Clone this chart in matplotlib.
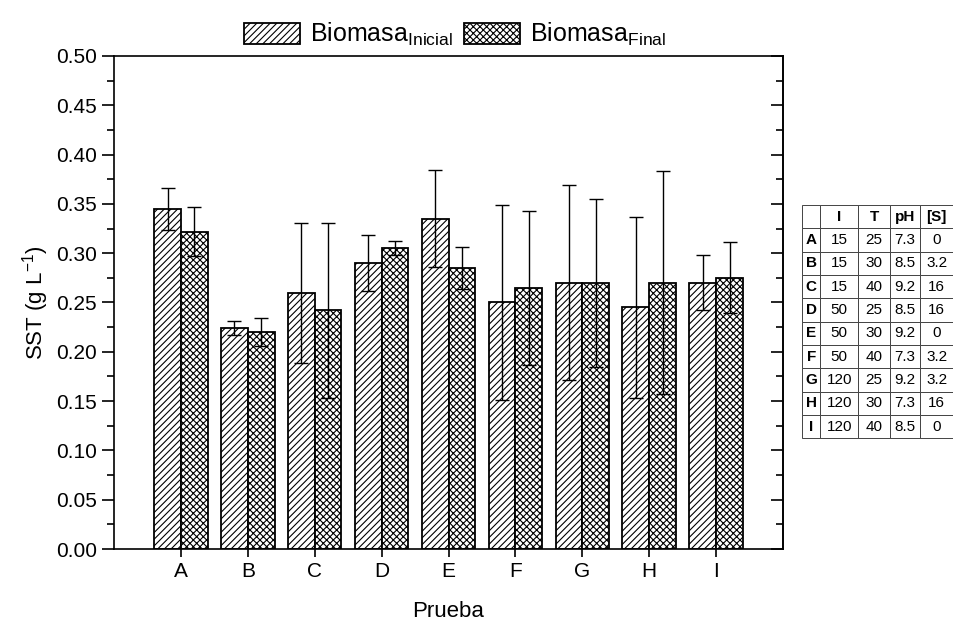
import matplotlib
matplotlib.use("Agg")
import matplotlib.pyplot as plt
import numpy as np
from matplotlib.ticker import MultipleLocator, FormatStrFormatter

# Datos
pruebas = ["A", "B", "C", "D", "E", "F", "G", "H", "I"]
bio_inicial = [0.345, 0.224, 0.260, 0.290, 0.335, 0.250, 0.270, 0.245, 0.270]
err_inicial = [0.021, 0.007, 0.071, 0.028, 0.049, 0.099, 0.099, 0.092, 0.028]
bio_final = [0.322, 0.220, 0.242, 0.305, 0.285, 0.265, 0.270, 0.270, 0.275]
err_final = [0.025, 0.014, 0.089, 0.007, 0.021, 0.078, 0.085, 0.113, 0.036]

# Tabla de condiciones
col_tabla = ["", "I", "T", "pH", "[S]"]
val_I = ["15", "15", "15", "50", "50", "50", "120", "120", "120"]
val_T = ["25", "30", "40", "25", "30", "40", "25", "30", "40"]
val_pH = ["7.3", "8.5", "9.2", "8.5", "9.2", "7.3", "9.2", "7.3", "8.5"]
val_S = ["0", "3.2", "16", "16", "0", "3.2", "3.2", "16", "0"]

plt.rcParams["font.family"] = "Liberation Sans"
plt.rcParams["mathtext.default"] = "regular"
plt.rcParams["hatch.linewidth"] = 0.8

fig = plt.figure(figsize=(9.54, 6.27), dpi=100)
ax = fig.add_axes([0.1195, 0.1244, 0.7013, 0.7863])

x = np.arange(len(pruebas))
ancho = 0.4

ax.bar(x - ancho / 2, bio_inicial, ancho, facecolor="white", edgecolor="black",
       linewidth=1.3, hatch="/////", label="Biomasa$_{Inicial}$")
ax.bar(x + ancho / 2, bio_final, ancho, facecolor="white", edgecolor="black",
       linewidth=1.3, hatch="xxxxx", label="Biomasa$_{Final}$")

ax.errorbar(x - ancho / 2, bio_inicial, yerr=err_inicial, fmt="none",
            ecolor="black", elinewidth=1, capsize=5, capthick=1)
ax.errorbar(x + ancho / 2, bio_final, yerr=err_final, fmt="none",
            ecolor="black", elinewidth=1, capsize=5, capthick=1)

# Ejes
ax.set_xlim(-1, 9)
ax.set_ylim(0, 0.5)
ax.set_xticks(x)
ax.set_xticklabels(pruebas)
ax.yaxis.set_major_locator(MultipleLocator(0.05))
ax.yaxis.set_minor_locator(MultipleLocator(0.025))
ax.yaxis.set_major_formatter(FormatStrFormatter("%.2f"))
ax.tick_params(axis="both", labelsize=15, direction="out", width=1.2)
ax.tick_params(axis="y", which="major", length=9)
ax.tick_params(axis="y", which="minor", length=5, width=1.2)
ax.tick_params(axis="x", which="major", length=6)
for s in ax.spines.values():
    s.set_linewidth(1.2)

# Eje derecho con marcas hacia dentro
ax2 = ax.secondary_yaxis("right")
ax2.yaxis.set_major_locator(MultipleLocator(0.05))
ax2.yaxis.set_minor_locator(MultipleLocator(0.025))
ax2.tick_params(axis="y", which="major", direction="in", length=9, width=1.2,
                labelright=False)
ax2.tick_params(axis="y", which="minor", direction="in", length=5, width=1.2)
ax2.spines["right"].set_linewidth(1.2)

ax.set_xlabel("Prueba", fontsize=16, labelpad=14)
ax.set_ylabel("SST (g L$^{-1}$)", fontsize=16, labelpad=3)

# Leyenda
ax.legend(loc="lower center", bbox_to_anchor=(0.51, 0.99), ncol=2,
          frameon=False, fontsize=18, handlelength=2.25, handleheight=0.9,
          columnspacing=0.45, handletextpad=0.4, borderaxespad=0.1)

# Tabla
tax = fig.add_axes([0.841, 0.301, 0.158, 0.372])
tax.axis("off")
celdas = [list(f) for f in zip(pruebas, val_I, val_T, val_pH, val_S)]
anchos = np.array([18, 38, 32, 30, 33]) / 151
tabla = tax.table(cellText=celdas, colLabels=col_tabla,
                  colWidths=list(anchos), cellLoc="center",
                  bbox=[0, 0, 1, 1])
tabla.auto_set_font_size(False)
for (r, c), celda in tabla.get_celld().items():
    celda.set_edgecolor("#444444")
    celda.set_linewidth(0.7)
    celda.PAD = 0.02
    celda.get_text().set_fontsize(11)
    if r == 0 or c == 0:
        celda.get_text().set_fontweight("bold")

fig.savefig("out.png", dpi=100)
